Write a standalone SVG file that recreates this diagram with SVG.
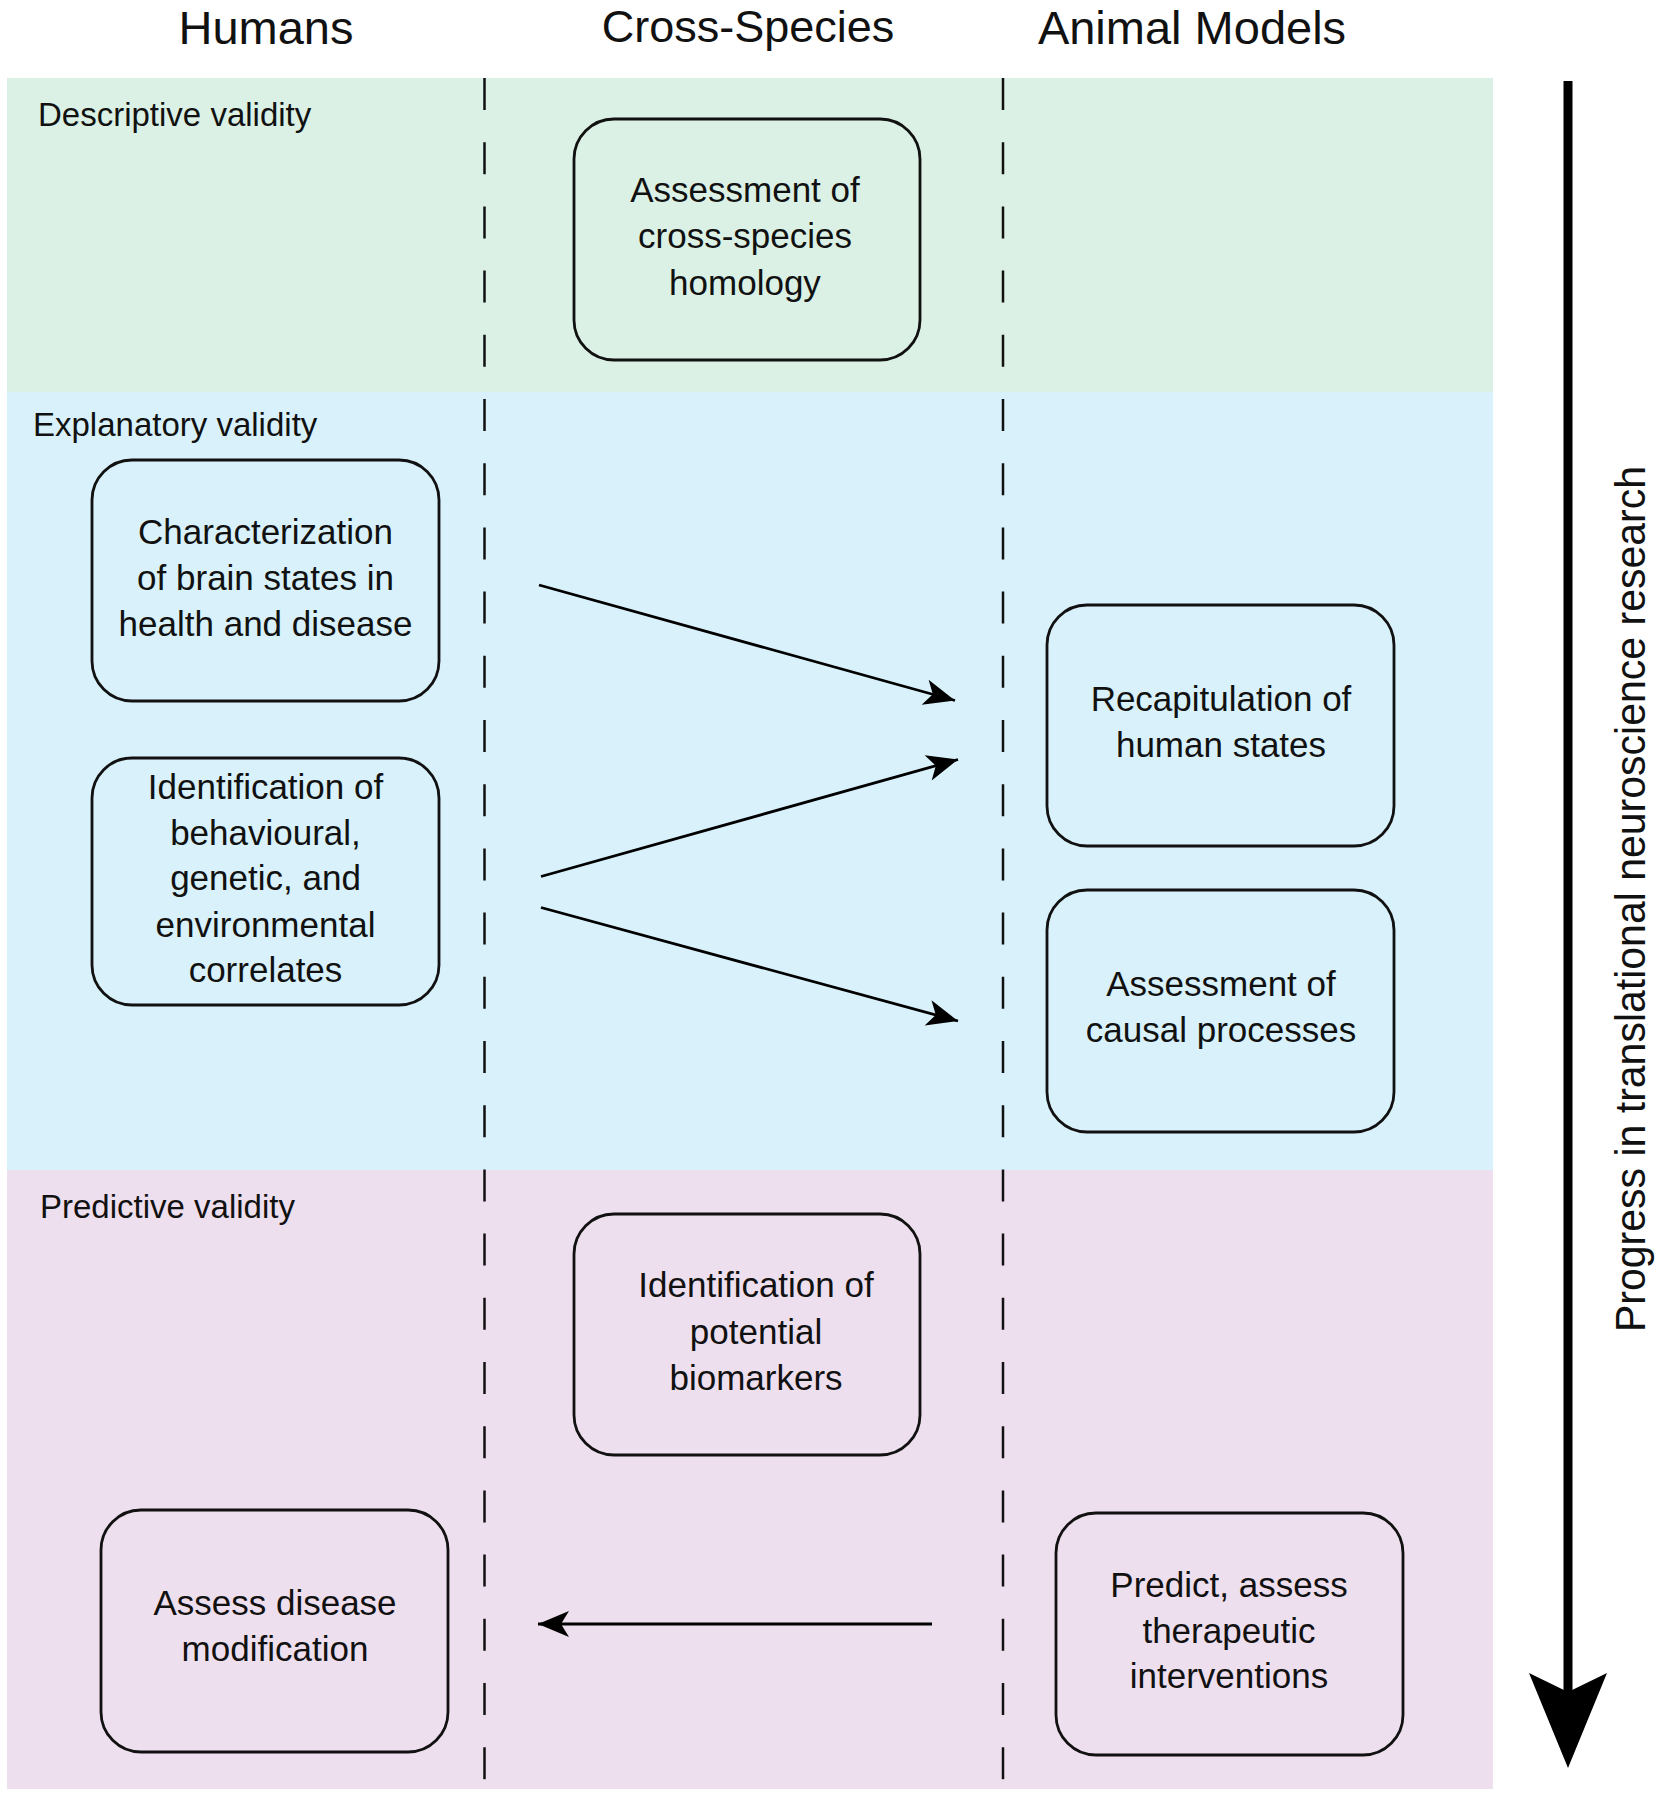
<svg xmlns="http://www.w3.org/2000/svg" width="1663" height="1800" viewBox="0 0 1663 1800">
  <style>
    .head { font-family: "Liberation Sans", Arial, sans-serif; font-size: 47px; fill: #111; text-anchor: middle; }
    .sec { font-family: "Liberation Sans", Arial, sans-serif; font-size: 33px; fill: #111; }
    .bt { font-family: "Liberation Sans", Arial, sans-serif; font-size: 35px; fill: #111; text-anchor: middle; }
    .box { fill: none; stroke: #111; stroke-width: 2.8; }
    .dash { stroke: #111; stroke-width: 2.5; stroke-dasharray: 32 32.2; fill: none; }
    .conn { stroke: #000; stroke-width: 2.8; fill: none; marker-end: url(#ah); }
    .axis { font-family: "Liberation Sans", Arial, sans-serif; font-size: 43px; fill: #111; text-anchor: middle; }
  </style>
  <defs>
    <marker id="ah" markerUnits="userSpaceOnUse" markerWidth="40" markerHeight="32" viewBox="-32 -16 34 32" refX="0" refY="0" orient="auto">
      <path d="M0,0 L-31,-13 L-23,0 L-31,13 Z" fill="#000"/>
    </marker>
  </defs>
  <rect x="0" y="0" width="1663" height="1800" fill="#fff"/>

  <g id="bands">
    <rect x="7" y="78" width="1486" height="314" fill="#DBF1E5"/>
    <rect x="7" y="392" width="1486" height="778" fill="#D8F1FA"/>
    <rect x="7" y="1170" width="1486" height="619" fill="#EEDFEE"/>
  </g>

  <g id="headings">
    <text class="head" x="266" y="44">Humans</text>
    <text class="head" x="748" y="42" style="font-size:45px">Cross-Species</text>
    <text class="head" x="1192" y="44">Animal Models</text>
  </g>

  <g id="lanes">
    <line class="dash" x1="484.5" y1="78" x2="484.5" y2="1789"/>
    <line class="dash" x1="1003" y1="78" x2="1003" y2="1789"/>
  </g>

  <g id="section-labels">
    <text class="sec" x="38" y="126">Descriptive validity</text>
    <text class="sec" x="33" y="436">Explanatory validity</text>
    <text class="sec" x="40" y="1218">Predictive validity</text>
  </g>

  <g id="node-homology">
    <rect class="box" x="574" y="119" width="346" height="241" rx="40" ry="40"/>
    <text class="bt" x="745" y="202">Assessment of</text>
    <text class="bt" x="745" y="248">cross-species</text>
    <text class="bt" x="745" y="295">homology</text>
  </g>

  <g id="node-characterization">
    <rect class="box" x="92" y="460" width="347" height="241" rx="40" ry="40"/>
    <text class="bt" x="265.5" y="544">Characterization</text>
    <text class="bt" x="265.5" y="590">of brain states in</text>
    <text class="bt" x="265.5" y="636">health and disease</text>
  </g>

  <g id="node-identification-correlates">
    <rect class="box" x="92" y="758" width="347" height="247" rx="40" ry="40"/>
    <text class="bt" x="265.5" y="799">Identification of</text>
    <text class="bt" x="265.5" y="845">behavioural,</text>
    <text class="bt" x="265.5" y="890">genetic, and</text>
    <text class="bt" x="265.5" y="937">environmental</text>
    <text class="bt" x="265.5" y="982">correlates</text>
  </g>

  <g id="node-recapitulation">
    <rect class="box" x="1047" y="605" width="347" height="241" rx="40" ry="40"/>
    <text class="bt" x="1221" y="711">Recapitulation of</text>
    <text class="bt" x="1221" y="757">human states</text>
  </g>

  <g id="node-causal">
    <rect class="box" x="1047" y="890" width="347" height="242" rx="40" ry="40"/>
    <text class="bt" x="1221" y="996">Assessment of</text>
    <text class="bt" x="1221" y="1042">causal processes</text>
  </g>

  <g id="node-biomarkers">
    <rect class="box" x="574" y="1214" width="346" height="241" rx="40" ry="40"/>
    <text class="bt" x="756" y="1297">Identification of</text>
    <text class="bt" x="756" y="1344">potential</text>
    <text class="bt" x="756" y="1390">biomarkers</text>
  </g>

  <g id="node-disease-modification">
    <rect class="box" x="101" y="1510" width="347" height="242" rx="40" ry="40"/>
    <text class="bt" x="275" y="1615">Assess disease</text>
    <text class="bt" x="275" y="1661">modification</text>
  </g>

  <g id="node-therapeutic">
    <rect class="box" x="1056" y="1513" width="347" height="242" rx="40" ry="40"/>
    <text class="bt" x="1229" y="1597">Predict, assess</text>
    <text class="bt" x="1229" y="1643">therapeutic</text>
    <text class="bt" x="1229" y="1688">interventions</text>
  </g>

  <g id="connectors">
    <line class="conn" x1="539" y1="585" x2="955" y2="700.5"/>
    <line class="conn" x1="541" y1="876.5" x2="958" y2="759.5"/>
    <line class="conn" x1="541" y1="907.5" x2="958" y2="1021"/>
    <line class="conn" x1="932" y1="1624" x2="538" y2="1624"/>
  </g>

  <g id="progress-axis">
    <line x1="1568" y1="81" x2="1568" y2="1695" stroke="#000" stroke-width="9"/>
    <path d="M1568,1768 L1529,1673 L1568,1692 L1607,1673 Z" fill="#000"/>
    <text class="axis" x="0" y="0" transform="translate(1645,899) rotate(-90)" textLength="866" lengthAdjust="spacingAndGlyphs">Progress in translational neuroscience research</text>
  </g>
</svg>
